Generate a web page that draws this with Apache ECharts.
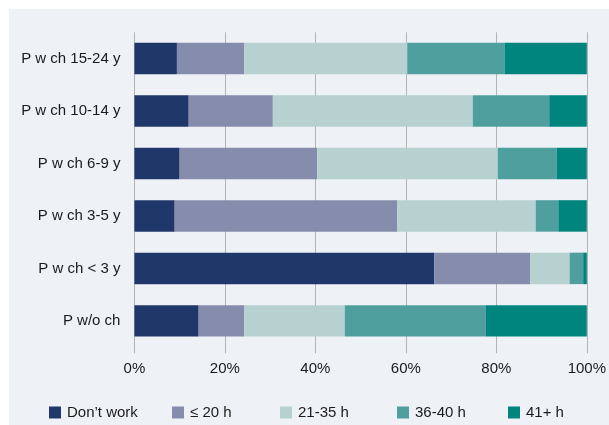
<!DOCTYPE html>
<html>
<head>
<meta charset="utf-8">
<script src="https://cdn.jsdelivr.net/npm/echarts@6/dist/echarts.min.js"></script>
<style>
html,body{margin:0;padding:0;background:#ffffff;}
#chart{width:609px;height:425px;}
</style>
</head>
<body>
<div id="chart"></div>
<script>
// Categories (top to bottom)
const categories = ["P w ch 15-24 y", "P w ch 10-14 y", "P w ch 6-9 y", "P w ch 3-5 y", "P w ch < 3 y", "P w/o ch"];
const seriesNames = ["Don\u2019t work", "\u2264 20 h", "21-35 h", "36-40 h", "41+ h"];
// Shares in percent per category
const dontWork = [9.4, 12.0, 10.0, 8.9, 66.3, 14.2];
const upTo20h  = [14.9, 18.6, 30.4, 49.2, 21.2, 10.1];
const h21to35  = [36.0, 44.2, 39.9, 30.6, 8.7, 22.2];
const h36to40  = [21.5, 16.9, 13.0, 5.0, 3.0, 31.2];
const h41plus  = [18.2, 8.3, 6.7, 6.3, 0.8, 22.3];
const xTicks = [0, 20, 40, 60, 80, 100];

const colors = ["#203769", "#868cab", "#b6d1d0", "#4f9f9e", "#00847e"];
const values = [dontWork, upTo20h, h21to35, h36to40, h41plus];
const font = "'Liberation Sans', Arial, sans-serif";

const chart = echarts.init(document.getElementById('chart'), null, {renderer: 'canvas'});

const legendLefts = [49, 172, 280, 397, 508];

const option = {
  backgroundColor: '#ffffff',
  animation: false,
  graphic: [{
    type: 'rect', z: -10, silent: true,
    shape: {x: 9, y: 9, width: 600, height: 416},
    style: {fill: '#eef2f7'}
  }],
  grid: {left: 134.4, right: 19.5, top: 32.3, bottom: 77.9, containLabel: false},
  xAxis: {
    type: 'value', min: 0, max: 100, interval: 20,
    axisLine: {show: false},
    axisTick: {show: true, length: 6, lineStyle: {color: '#b3b3b3', width: 1}},
    splitLine: {show: true, lineStyle: {color: '#b3b3b3', width: 1}},
    axisLabel: {
      margin: 14, color: '#1a1a1a', fontSize: 15, fontFamily: font,
      formatter: v => (xTicks.includes(v) ? v + '%' : '')
    }
  },
  yAxis: {
    type: 'category', data: categories, inverse: true,
    axisLine: {show: false}, axisTick: {show: false},
    axisLabel: {margin: 14, color: '#1a1a1a', fontSize: 15, fontFamily: font}
  },
  legend: seriesNames.map((n, i) => ({
    data: [n], left: legendLefts[i], top: 405,
    itemWidth: 12, itemHeight: 12, itemGap: 0, padding: 0,
    icon: 'rect',
    textStyle: {color: '#1a1a1a', fontSize: 15, fontFamily: font, padding: [0, 0, 0, 1]}
  })),
  series: seriesNames.map((n, i) => ({
    name: n, type: 'bar', stack: 'total',
    data: values[i],
    barCategoryGap: '40%',
    itemStyle: {color: colors[i]},
    emphasis: {disabled: true}
  }))
};
chart.setOption(option);
</script>
</body>
</html>
